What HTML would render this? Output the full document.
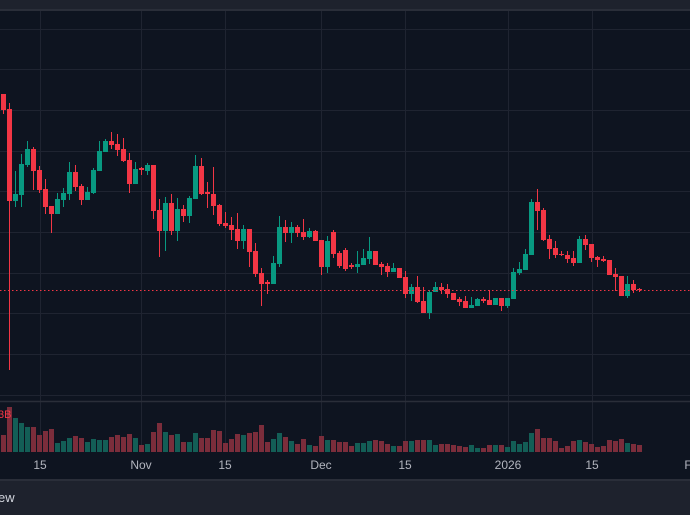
<!DOCTYPE html>
<html><head><meta charset="utf-8"><style>
html,body{margin:0;padding:0;background:#0e1420;width:690px;height:515px;overflow:hidden}
svg{display:block}
</style></head><body>
<svg id="s" width="690" height="515" xmlns="http://www.w3.org/2000/svg" font-family="Liberation Sans, sans-serif">
<rect x="0" y="0" width="690" height="515" fill="#0e1420"/>
<rect x="0" y="0" width="690" height="10" fill="#1e222d"/>
<rect x="0" y="9" width="690" height="2" fill="#2a2e39"/>
<g id="grid" stroke="#1f2431" stroke-width="1"></g>
<line x1="0" y1="401.5" x2="690" y2="401.5" stroke="#2a2e39" stroke-width="1.5"/>
<g id="vol"></g>
<g id="c"></g>
<line x1="0" y1="290.5" x2="690" y2="290.5" stroke="#f23645" stroke-width="1" stroke-dasharray="1.5,2.5"/>
<text x="-2" y="418" font-size="11" fill="#f23645">3B</text>
<g font-size="12" fill="#b2b5be" text-anchor="middle">
<text x="40" y="469">15</text><text x="141" y="469">Nov</text><text x="225" y="469">15</text>
<text x="321" y="469">Dec</text><text x="405" y="469">15</text><text x="508" y="469">2026</text>
<text x="592" y="469">15</text><text x="688" y="469">F</text>
</g>
<rect x="0" y="479" width="690" height="36" fill="#1e222d"/>
<rect x="0" y="479" width="690" height="2" fill="#2a2e39"/>
<text x="-2" y="502" font-size="13" fill="#d1d4dc">ew</text>
</svg>
<script>
var NS="http://www.w3.org/2000/svg";
function el(p,t,a){var e=document.createElementNS(NS,t);for(var k in a)e.setAttribute(k,a[k]);p.appendChild(e);return e;}
var g=document.getElementById('grid');
[29,69,110,151,191,232,273,313,354,395].forEach(function(y){el(g,'line',{x1:0,x2:690,y1:y+.5,y2:y+.5});});
[40,141,225,321,405,508,592].forEach(function(x){el(g,'line',{x1:x+.5,x2:x+.5,y1:11,y2:452});});
// type,bodyTop,bodyBot,wickTop,wickBot
var D=[
['r',94,110,94,114],['r',109,201,103,370],['g',194,201,171,207],['g',164,195,154,207],['g',149,165,141,167],
['r',149,171,147,190],['r',170,190,166,193],['r',189,207,179,214],['r',206,214,206,233],['g',199,214,193,214],
['g',193,200,188,207],['g',172,194,162,200],['r',172,187,165,191],['r',186,200,184,205],['g',192,200,187,200],
['g',170,193,168,194],['g',151,171,141,171],['g',141,152,139,152],['r',141,145,132,149],['r',144,150,134,156],
['r',149,161,138,162],['r',160,184,153,193],['g',169,184,162,184],['r',168,170,167,175],['g',165,171,163,175],
['r',165,211,165,219],['r',210,231,199,257],['g',203,231,197,251],['r',203,231,194,235],['g',209,231,198,241],
['r',209,216,205,222],['g',198,216,196,223],['g',166,199,155,199],['r',166,194,158,195],['r',192,194,182,208],
['r',194,206,167,215],['r',205,224,204,226],['r',223,226,212,228],['r',225,230,217,240],['r',229,241,213,249],
['g',229,241,225,249],['r',229,252,229,267],['r',251,274,243,277],['r',273,284,268,306],['r',282,284,280,294],
['g',263,284,256,284],['g',227,264,216,267],['r',227,233,220,242],['g',227,233,222,243],['r',227,233,225,237],
['r',232,237,219,240],['g',231,237,228,238],['r',231,241,230,241],['r',240,267,240,275],['g',241,267,236,273],
['r',232,254,230,258],['r',253,266,251,268],['r',250,269,248,271],['r',265,267,263,269],['g',264,267,251,273],
['g',258,265,249,265],['g',251,259,237,264],['r',251,265,251,265],['r',264,267,262,275],['r',266,272,263,277],
['g',268,272,263,272],['r',268,278,268,278],['r',277,294,271,298],['g',287,294,284,301],['r',287,302,276,303],
['r',301,313,287,313],['g',292,313,290,319],['g',287,292,282,292],['r',287,290,283,294],['r',289,294,284,298],
['r',293,300,293,300],['r',299,302,297,306],['r',301,308,296,308],['g',305,308,297,308],['g',299,306,298,306],
['r',299,301,297,303],['r',300,305,290,305],['g',298,305,298,305],['r',298,306,298,311],['g',298,306,298,308],
['g',272,299,268,299],['g',269,273,262,275],['g',254,270,249,270],['g',202,255,199,255],['r',202,211,189,230],
['r',210,240,208,241],['r',239,249,235,259],['r',248,255,241,258],['r',254,255,251,256],['r',255,259,251,263],
['r',258,263,251,266],['g',239,263,236,263],['r',239,245,235,250],['r',244,258,244,262],['r',257,260,256,267],
['r',259,261,256,262],['r',260,275,260,275],['r',274,277,268,291],['r',276,296,276,296],['g',284,296,276,298],
['r',284,290,280,293],['r',289,290,288,292]];
var V=[17,45,34,29,25,25,17,21,23,9,11,14,16,14,10,13,12,12,15,17,15,18,14,7,8,20,29,20,17,18,10,10,19,14,14,22,21,9,13,18,17,19,20,27,10,13,19,15,11,8,13,7,6,16,12,12,10,10,6,9,9,11,12,11,8,6,6,11,11,12,12,12,7,8,8,7,6,5,7,4,4,7,7,7,5,11,8,10,19,23,14,14,11,4,6,11,12,10,8,5,6,12,11,13,9,8,7];
var c=document.getElementById('c'),v=document.getElementById('vol');
D.forEach(function(d,i){
 var x=1+6*i,col=d[0]=='g'?'#089981':'#f23645',vc=d[0]=='g'?'#135e56':'#7b2d3b';
 el(c,'rect',{x:x+2,y:d[3],width:1,height:Math.max(1,d[4]-d[3]),fill:col});
 el(c,'rect',{x:x,y:d[1],width:5,height:Math.max(1,d[2]-d[1]),fill:col});
 var h=V[i]||6;el(v,'rect',{x:x,y:452-h,width:5,height:h,fill:vc});
});
</script>
</body></html>
